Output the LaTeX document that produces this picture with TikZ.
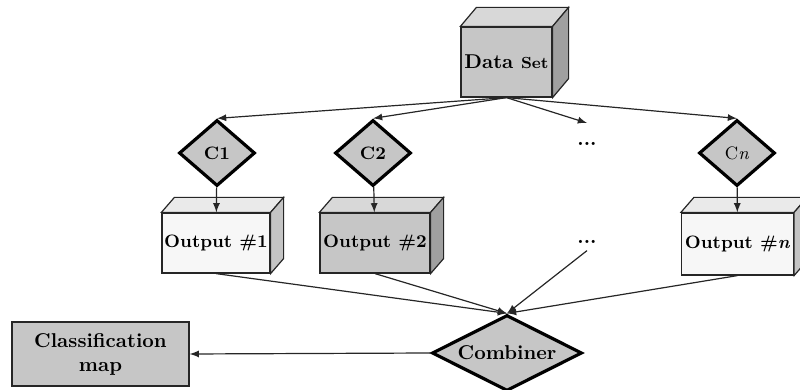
\documentclass[tikz,border=0pt]{standalone}
\usetikzlibrary{shapes.geometric}
\definecolor{boxgray}{RGB}{198,198,198}
\definecolor{topgray}{RGB}{216,216,216}
\definecolor{sidegray}{RGB}{160,160,160}
\definecolor{palefront}{RGB}{247,247,247}
\definecolor{paletop}{RGB}{234,234,234}
\definecolor{paleside}{RGB}{196,196,196}
\tikzset{
  facebox/.style={draw=black!85, line width=0.6pt, minimum width=54pt, minimum height=30pt, inner sep=1pt, font=\fontsize{9}{10}\selectfont\bfseries},
  clsdiamond/.style={diamond, draw=black, line width=1.6pt, fill=boxgray, minimum width=38pt, minimum height=33pt, inner sep=0pt, font=\fontsize{9}{10}\selectfont\bfseries},
  link/.style={line width=0.6pt, draw=black!85, ->, >=latex},
}
\begin{document}
\begin{tikzpicture}[x=0.5pt, y=-0.5pt]
            \useasboundingbox (0,0) rectangle (800,390);
            % data set and classifiers
            \node[facebox, fill=boxgray, minimum width=45.5pt, minimum height=35pt] (ds) at (506.5,62) {\fontsize{10}{12}\selectfont Data {\fontsize{8}{9}\selectfont Set}};
            \node[clsdiamond] (c1) at (217,153) {C1};
            \node[clsdiamond] (c2) at (373,153) {C2};
            \node[clsdiamond, font=\fontsize{9}{10}\selectfont] (cn) at (737,153) {C\textit{n}};
            \node[font=\bfseries] (dots1) at (587,144) {...};
            \coordinate (dtip) at (587,123);
            % outputs
            \node[facebox, fill=palefront] (out1) at (216,243) {Output \#1};
            \node[facebox, fill=boxgray, minimum width=55pt] (out2) at (375,243) {Output \#2};
            \node[font=\bfseries] (dots2) at (587,242) {...};
            \node[facebox, fill=palefront, minimum width=56pt, minimum height=31pt] (outn) at (737.5,244) {Output \#\textit{n}};
            % combiner and map
            \node[clsdiamond, aspect=2, minimum width=75pt, minimum height=38pt, font=\fontsize{10}{12}\selectfont\bfseries] (cb) at (507,353) {Combiner};
            \node[facebox, fill=boxgray, minimum width=88.5pt, minimum height=32pt, align=center, font=\fontsize{10}{12}\selectfont\bfseries] (cm) at (100.5,354) {Classification\\map};
            % box depth
            \foreach \b/\dx/\dy/\tc/\sc in {ds/16/19/topgray/sidegray, out1/13/15/paletop/paleside, out2/13/15/topgray/sidegray, outn/13/15/paletop/paleside}{
                \draw[line width=0.6pt, draw=black!85, fill=\tc] (\b.north west) -- ++(\dx,-\dy) -- ([shift={(\dx,-\dy)}]\b.north east) -- (\b.north east) -- cycle;
                \draw[line width=0.6pt, draw=black!85, fill=\sc] (\b.north east) -- ++(\dx,-\dy) -- ([shift={(\dx,-\dy)}]\b.south east) -- (\b.south east) -- cycle;
            }
            % connectors
            \foreach \c in {c1,c2,cn}
                \draw[link] (ds.south) -- (\c.north);
            \draw[link] (ds.south) -- (dtip);
            \draw[link] (c1) -- (out1);
            \draw[link] (c2) -- (out2);
            \draw[link] (cn) -- (outn);
            \foreach \o in {out1,out2,outn}
                \draw[link] (\o.south) -- (cb.north);
            \draw[link] (dots2.south) -- (cb.north);
            \draw[link] (cb.west) -- (cm.east);
\end{tikzpicture}
\end{document}
